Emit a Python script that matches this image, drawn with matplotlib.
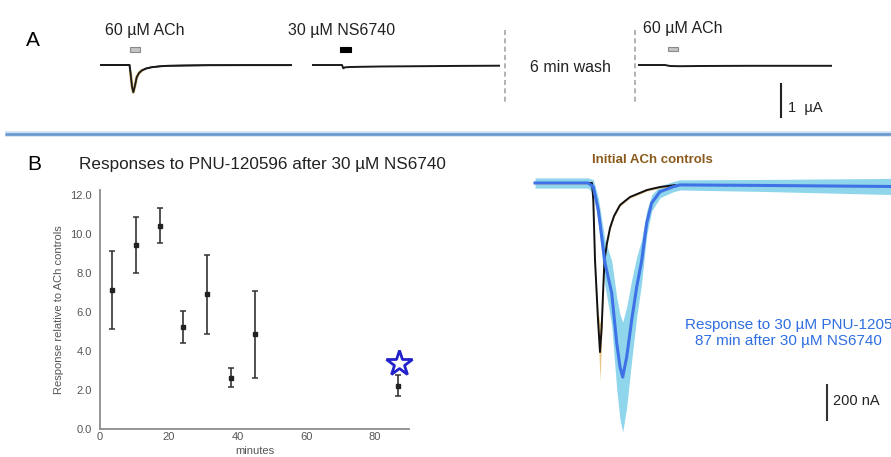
import numpy as np
import matplotlib
matplotlib.use('Agg')
import matplotlib.pyplot as plt
from matplotlib.patches import Rectangle

plt.rcParams['font.family'] = ['Liberation Sans', 'DejaVu Sans']

W, H = 891, 457

# ---------------- data ----------------
# Panel B left: responses relative to ACh controls
minutes = [3.6, 10.4, 17.4, 24.1, 31.2, 38.1, 45.0, 86.6]
response = [7.13, 9.42, 10.43, 5.25, 6.92, 2.63, 4.87, 2.22]
response_err = [2.0, 1.43, 0.9, 0.82, 2.03, 0.5, 2.23, 0.55]
star_minutes = [86.9]
star_response = [3.4]
yticks = [0.0, 2.0, 4.0, 6.0, 8.0, 10.0, 12.0]
xticks = [0, 20, 40, 60, 80]

# Panel A traces (time a.u., current in uA)
a1_t = [0, 29.5, 30.5, 32, 33.3, 35, 36.7, 39, 41.7, 46, 51.7, 60, 68, 85, 108, 150, 192]
a1_i = [0, 0, -0.227, -0.652, -0.824, -0.621, -0.370, -0.242, -0.167, -0.106,
        -0.067, -0.039, -0.024, -0.015, -0.006, -0.003, -0.003]
a1_sem = [0, 0, 0.02, 0.04, 0.05, 0.04, 0.03, 0.02, 0.015, 0.01, 0.0, 0, 0, 0, 0, 0, 0]
a2_t = [0, 30, 31.3, 33, 38, 48, 68, 108, 148, 188]
a2_i = [0, 0, -0.1, -0.07, -0.061, -0.055, -0.045, -0.036, -0.027, -0.021]
a3_t = [0, 27, 32, 42, 62, 112, 194]
a3_i = [0, 0, -0.03, -0.036, -0.03, -0.024, -0.024]

# Panel B right: averaged traces (time a.u., current nA)
ach_t = [0, 57, 58.3, 60, 63, 65, 66.7, 68.3, 69.5, 72, 75, 79, 85, 95, 112, 125, 140]
ach_i = [0, 0, -97, -440, -783, -966, -823, -594, -440, -343, -257, -189, -126,
         -80, -40, -23, -12]
ach_sem = [6, 6, 11, 17, 46, 165, 57, 23, 11, 11, 11, 8, 6, 6, 6, 6, 6]
pnu_t = [0, 53, 58.3, 63.3, 66.7, 70, 76.7, 81.7, 85, 87.7, 91.7, 96.7, 101.7,
         106.5, 111.7, 116.7, 125, 138.3, 145, 225, 356]
pnu_i = [0, 0, -21, -154, -307, -457, -629, -914, -1051, -1109, -994, -783, -594,
         -451, -229, -114, -50, -21, -11, -14, -20]
pnu_sem = [29, 29, 40, 70, 100, 130, 185, 262, 300, 314, 286, 229, 171, 126, 69,
           46, 34, 29, 29, 34, 46]

# ---------------- figure ----------------
fig = plt.figure(figsize=(W / 100, H / 100), dpi=100)
fig.patch.set_facecolor('white')


def px_axes(x0, y0, x1, y1, **kw):
    return fig.add_axes([x0 / W, 1 - y1 / H, (x1 - x0) / W, (y1 - y0) / H], **kw)


ov = px_axes(0, 0, W, H)
ov.set_xlim(0, W)
ov.set_ylim(H, 0)
ov.axis('off')

txt = '#222222'
# Panel labels
ov.text(26, 40, 'A', fontsize=15, va='center', ha='left', color='black')
ov.text(27, 165, 'B', fontsize=15, va='center', ha='left', color='black')

# Panel A annotations
ov.text(105, 30, '60 µM ACh', fontsize=11.5, va='center', ha='left', color=txt)
ov.text(288, 30, '30 µM NS6740', fontsize=11.5, va='center', ha='left', color=txt)
ov.text(643, 29, '60 µM ACh', fontsize=11.5, va='center', ha='left', color=txt)
ov.text(530, 67, '6 min wash', fontsize=11.5, va='center', ha='left', color=txt)
ov.add_patch(Rectangle((130, 47), 10, 4.5, fc='#c4c4c4', ec='#8a8a8a', lw=0.8))
ov.add_patch(Rectangle((340, 47), 11, 4.5, fc='black', ec='black', lw=0.8))
ov.add_patch(Rectangle((668, 47), 10, 4.0, fc='#c4c4c4', ec='#8a8a8a', lw=0.8))
for xd in (505, 635):
    ov.plot([xd, xd], [30, 102], ls=(0, (3, 2)), color='#a5a5a5', lw=1.2)
ov.text(788, 108, '1  µA', fontsize=10.5, va='center', ha='left', color=txt)

# separator
ov.plot([5, W], [133.5, 133.5], color='#cfe0f2', lw=4, solid_capstyle='butt')
ov.plot([5, W], [133.5, 133.5], color='#6d9ad0', lw=2, solid_capstyle='butt')

# Panel B texts
ov.text(79, 165, 'Responses to PNU-120596 after 30 µM NS6740', fontsize=12.3,
        va='center', ha='left', color=txt)
ov.text(592, 160, 'Initial ACh controls', fontsize=9.5, weight='bold',
        va='center', ha='left', color='#8a5a1c')
ov.text(685, 325.5, 'Response to 30 µM PNU-120596', fontsize=11, va='center',
        ha='left', color='#2f6fe0')
ov.text(788, 340.5, '87 min after 30 µM NS6740', fontsize=11, va='center',
        ha='center', color='#2f6fe0')
ov.text(833, 401, '200 nA', fontsize=10.5, va='center', ha='left', color=txt)

# ---- Panel A traces ----
ylimA = (-1.818, 1.364)
for (x0, x1, t, i) in ((100, 292, a1_t, a1_i), (312, 500, a2_t, a2_i), (638, 832, a3_t, a3_i)):
    ax = px_axes(x0, 20, x1, 125)
    ax.set_xlim(0, x1 - x0)
    ax.set_ylim(*ylimA)
    ax.axis('off')
    ax.patch.set_alpha(0)
    if t is a1_t:
        ax.fill_between(t, np.array(i) - np.array(a1_sem), np.array(i) + np.array(a1_sem),
                        color='#d9b46a', lw=0)
        ax.plot(t, i, color='#1a1a1a', lw=1.4)
        ax.plot(t[2:9], i[2:9], color='#c9a050', lw=2.2, alpha=0.6)
        ax.plot(t, i, color='#1a1a1a', lw=1.1)
    else:
        ax.plot(t, i, color='#1a1a1a', lw=1.4)
    if t is a3_t:
        ax.plot([143, 143], [-0.58, -1.58], color='#222222', lw=1.5)

# ---- Panel B left scatter ----
axs = px_axes(100, 190, 409.4, 429)
axs.set_xlim(0, 90)
axs.set_ylim(0, 12.26)
axs.patch.set_alpha(0)
for s in ('top', 'right'):
    axs.spines[s].set_visible(False)
for s in ('left', 'bottom'):
    axs.spines[s].set_color('#8c8c8c')
    axs.spines[s].set_linewidth(1.3)
axs.set_yticks(yticks)
axs.set_yticklabels([f'{v:.1f}' for v in yticks])
axs.set_xticks(xticks)
axs.tick_params(axis='both', length=0, labelsize=8, labelcolor='#555555')
axs.tick_params(axis='y', pad=6)
axs.tick_params(axis='x', pad=2)
axs.set_xlabel('minutes', fontsize=8, color='#555555', labelpad=3)
axs.set_ylabel('Response relative to ACh controls', fontsize=8, color='#555555', labelpad=4)
axs.errorbar(minutes, response, yerr=response_err, fmt='s', ms=2.5, color='#222222',
             ecolor='#333333', elinewidth=1.2, capsize=2.2, capthick=1.1, clip_on=False)
axs.plot(star_minutes, star_response, marker='*', ms=19, mfc='white', mec='#2222cc',
         mew=2, ls='none', clip_on=False)

# ---- Panel B right traces ----
axt = px_axes(530, 145, 891, 445)
axt.set_xlim(-5, 356)
axt.set_ylim(-1497, 217)
axt.axis('off')
axt.patch.set_alpha(0)
pi, ps = np.array(pnu_i), np.array(pnu_sem)
ai, as_ = np.array(ach_i), np.array(ach_sem)
axt.fill_between(pnu_t, pi - ps, pi + ps, color='#8fd6ec', lw=0)
axt.fill_between(ach_t, ai - as_, ai + as_, color='#e8c487', lw=0)
axt.plot(ach_t, ach_i, color='#111111', lw=1.4)
axt.plot(pnu_t, pnu_i, color='#3f72e6', lw=2.2)
axt.plot([291.7, 291.7], [-1154, -1354], color='#333333', lw=1.5)

fig.savefig('out.png', dpi=100)
